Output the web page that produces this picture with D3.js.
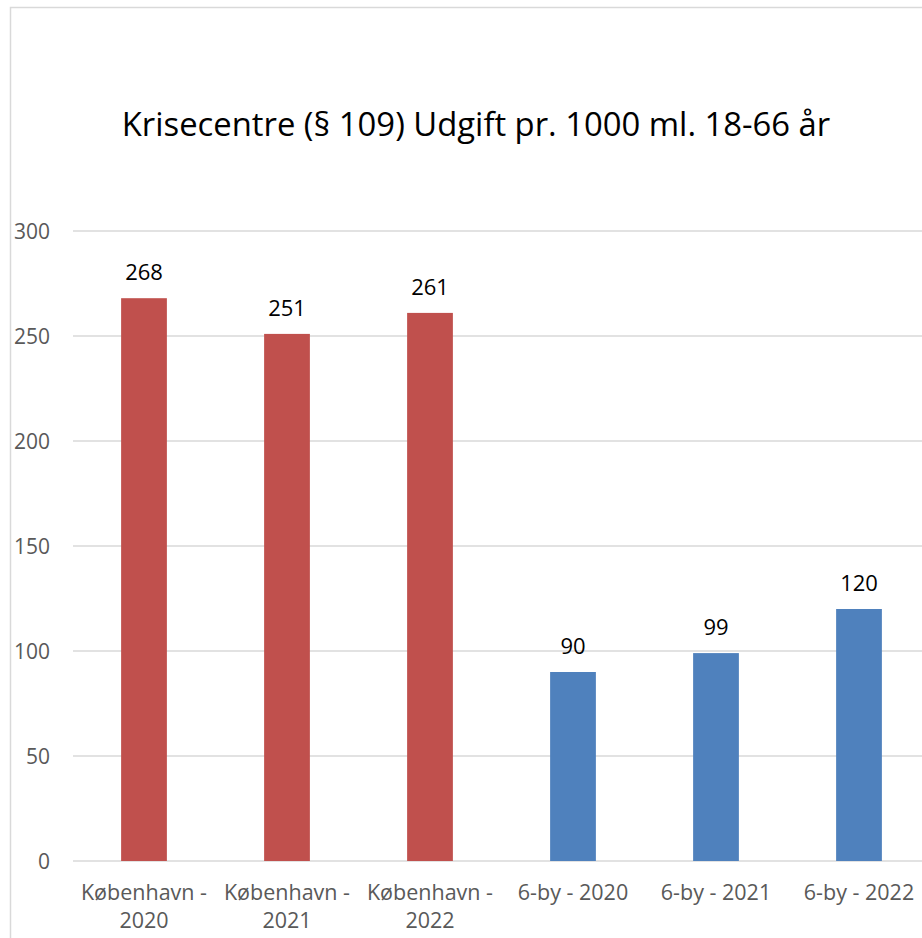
<!DOCTYPE html>
<html>
<head>
<meta charset="utf-8">
<script src="https://cdn.jsdelivr.net/npm/d3@7"></script>
<style>
  body { margin: 0; background: #fff; }
  svg { display: block; }
</style>
</head>
<body>
<div id="chart"></div>
<script>
const kategorier = ["København - 2020", "København - 2021", "København - 2022", "6-by - 2020", "6-by - 2021", "6-by - 2022"];
const udgift = [268, 251, 261, 90, 99, 120];
const farver = ["#C0504D", "#C0504D", "#C0504D", "#4F81BD", "#4F81BD", "#4F81BD"];
const yTicks = [0, 50, 100, 150, 200, 250, 300];

const WIDTH = 922;
const HEIGHT = 938;
const FONT = "'Open Sans', 'Liberation Sans', sans-serif";

const svg = d3.select("#chart").append("svg")
  .attr("width", WIDTH).attr("height", HEIGHT);

// ramme
svg.append("rect")
  .attr("x", 10.5).attr("y", 7.5)
  .attr("width", 940).attr("height", 960)
  .attr("fill", "#fff").attr("stroke", "#d9d9d9").attr("stroke-width", 1.5);

svg.append("text")
  .attr("x", 476).attr("y", 136)
  .attr("text-anchor", "middle")
  .attr("font-family", FONT).attr("font-size", "32.8px")
  .attr("fill", "#000")
  .text("Krisecentre (§ 109) Udgift pr. 1000 ml. 18-66 år");

const x = d3.scaleBand()
  .domain(kategorier)
  .range([72.5, 930.5])
  .paddingInner(0.68).paddingOuter(0.34);

const y = d3.scaleLinear().domain([0, 300]).range([861, 231]);

// gitterlinjer
svg.append("g").selectAll("line")
  .data(yTicks).enter().append("line")
  .attr("x1", 73).attr("x2", WIDTH)
  .attr("y1", d => y(d)).attr("y2", d => y(d))
  .attr("stroke", "#d9d9d9").attr("stroke-width", 1.5);

svg.append("g").selectAll("text")
  .data(yTicks).enter().append("text")
  .attr("x", 50).attr("y", d => y(d) + 7.5)
  .attr("text-anchor", "end")
  .attr("font-family", FONT).attr("font-size", "21px")
  .attr("fill", "#595959")
  .text(d => d);

svg.append("g").selectAll("rect")
  .data(udgift).enter().append("rect")
  .attr("x", (d, i) => x(kategorier[i]))
  .attr("width", x.bandwidth())
  .attr("y", d => y(d))
  .attr("height", d => y(0) - y(d))
  .attr("fill", (d, i) => farver[i]);

svg.append("g").selectAll("text")
  .data(udgift).enter().append("text")
  .attr("x", (d, i) => x(kategorier[i]) + x.bandwidth() / 2)
  .attr("y", d => y(d) - 18)
  .attr("text-anchor", "middle")
  .attr("font-family", FONT).attr("font-size", "22px")
  .attr("fill", "#000")
  .text(d => d);

// x-etiketter, brudt som i Excel
const xl = svg.append("g").selectAll("text")
  .data(kategorier).enter().append("text")
  .attr("text-anchor", "middle")
  .attr("font-family", FONT).attr("font-size", "21.5px")
  .attr("fill", "#595959");

xl.each(function (d) {
  const t = d3.select(this);
  const cx = x(d) + x.bandwidth() / 2;
  const lines = d.startsWith("København") ? [d.split(" - ")[0] + " -", d.split(" - ")[1]] : [d];
  lines.forEach((l, i) => {
    t.append("tspan").attr("x", cx).attr("y", 900 + i * 28).text(l);
  });
});
</script>
</body>
</html>
